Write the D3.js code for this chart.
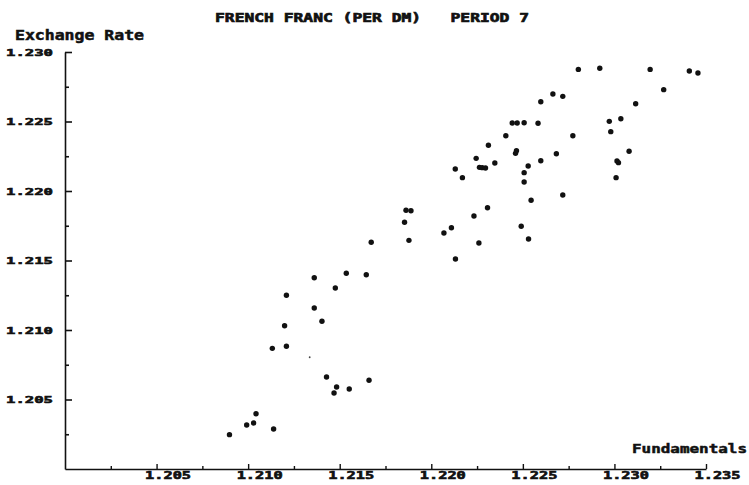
<!DOCTYPE html>
<html>
<head>
<meta charset="utf-8">
<script src="https://cdn.jsdelivr.net/npm/d3@7"></script>
<style>
  html, body { margin: 0; padding: 0; background: #fff; }
  svg { display: block; }
  text { font-family: "DejaVu Sans Mono", monospace; font-weight: bold; fill: #111; stroke: #111; stroke-width: 0.5; }
</style>
</head>
<body>
<svg id="chart" width="749" height="485"></svg>
<script>
// ---- data ----
const titleText = "FRENCH FRANC (PER DM)   PERIOD 7";
const yTitle = "Exchange Rate";
const xTitle = "Fundamentals";

const xTickValues = [1.205, 1.210, 1.215, 1.220, 1.225, 1.230, 1.235];
const xTickLabels = ["1.205", "1.210", "1.215", "1.220", "1.225", "1.230", "1.235"];
const xMinorTicks = [1.2025, 1.2075, 1.2125, 1.2175, 1.2225, 1.2275, 1.2325];
const yTickValues = [1.205, 1.210, 1.215, 1.220, 1.225, 1.230];
const yTickLabels = ["1.205", "1.210", "1.215", "1.220", "1.225", "1.230"];
const yMinorTicks = [1.2025, 1.2075, 1.2125, 1.2175, 1.2225, 1.2275];

// fundamentals (x) and exchange rate (y), one entry per observation
const fundamentals = [
  1.20898, 1.20992, 1.21030, 1.21043, 1.21139,
  1.21428, 1.21483, 1.21469, 1.21552, 1.21660,
  1.21132, 1.21209, 1.21199, 1.21403, 1.21361, 1.21209, 1.21476, 1.21361, 1.21536, 1.21645, 1.21672,
  1.22803, 1.22664, 1.22718, 1.22598, 1.22442, 1.22469, 1.22507, 1.22583, 1.22407, 1.22773,
  1.22312, 1.22245, 1.22465, 1.22460, 1.22683, 1.22263, 1.22278, 1.22296, 1.22347, 1.22598,
  1.22131, 1.22529, 1.22170, 1.22507, 1.22507, 1.22545, 1.22718, 1.21862, 1.21889, 1.21854,
  1.22307, 1.22233, 1.22110, 1.22069, 1.22491, 1.21878, 1.22260, 1.22531, 1.22132,
  1.22920, 1.23195, 1.23409, 1.23456, 1.23269, 1.23116, 1.22972, 1.23035, 1.22980,
  1.23080, 1.23014, 1.23022, 1.23009
];
const exchangeRate = [
  1.20247, 1.20317, 1.20331, 1.20398, 1.20288,
  1.20662, 1.20590, 1.20547, 1.20576, 1.20638,
  1.20868, 1.20883, 1.21031, 1.21063, 1.21158, 1.21250, 1.21302, 1.21376, 1.21408, 1.21398, 1.21631,
  1.22875, 1.22698, 1.22681, 1.22642, 1.22489, 1.22489, 1.22491, 1.22487, 1.22398, 1.22398,
  1.22329, 1.22235, 1.22290, 1.22271, 1.22268, 1.22170, 1.22168, 1.22165, 1.22201, 1.22218,
  1.22158, 1.22180, 1.22096, 1.22132, 1.22065, 1.21933, 1.21971, 1.21861, 1.21858, 1.21775,
  1.21880, 1.21820, 1.21736, 1.21698, 1.21746, 1.21645, 1.21626, 1.21655, 1.21511,
  1.22883, 1.22875, 1.22863, 1.22849, 1.22729, 1.22628, 1.22501, 1.22520, 1.22427,
  1.22286, 1.22216, 1.22204, 1.22096
];
// a faint, partly printed point
const faintX = [1.21336];
const faintY = [1.20804];

// ---- layout ----
const svg = d3.select("#chart");
const x = d3.scaleLinear().domain([1.200, 1.235]).range([65, 706]);
const y = d3.scaleLinear().domain([1.200, 1.230]).range([469, 52]);
const ink = "#111";

// title
svg.append("text")
  .attr("x", 215).attr("y", 21.5)
  .attr("font-size", 13)
  .attr("textLength", 314).attr("lengthAdjust", "spacingAndGlyphs")
  .attr("xml:space", "preserve")
  .style("white-space", "pre")
  .style("stroke-width", 0.7)
  .text(titleText);

svg.append("text")
  .attr("x", 15).attr("y", 39.5)
  .attr("font-size", 13.5)
  .attr("textLength", 129).attr("lengthAdjust", "spacingAndGlyphs")
  .text(yTitle);

svg.append("text")
  .attr("x", 632).attr("y", 452.5)
  .attr("font-size", 12.5)
  .attr("textLength", 115).attr("lengthAdjust", "spacingAndGlyphs")
  .text(xTitle);

// y axis (ticks point inward)
const yAxis = d3.axisLeft(y)
  .tickValues(yTickValues)
  .tickFormat((d, i) => yTickLabels[i])
  .tickSizeInner(-7).tickSizeOuter(0).tickPadding(12);
const gy = svg.append("g").attr("transform", "translate(65,0)").call(yAxis);
gy.select(".domain").attr("stroke", ink).attr("stroke-width", 1.6);
gy.selectAll(".tick line").attr("stroke", ink).attr("stroke-width", 1.6);
gy.selectAll(".tick text")
  .attr("font-size", 9.5).attr("fill", ink)
  .attr("textLength", 47).attr("lengthAdjust", "spacingAndGlyphs")
  .style("font-family", "'DejaVu Sans Mono', monospace").style("font-weight", "bold")
  .style("stroke", ink).style("stroke-width", 0.6);

const yMinor = d3.axisLeft(y).tickValues(yMinorTicks).tickFormat("")
  .tickSizeInner(-4).tickSizeOuter(0);
const gym = svg.append("g").attr("transform", "translate(65,0)").call(yMinor);
gym.select(".domain").remove();
gym.selectAll(".tick line").attr("stroke", ink).attr("stroke-width", 1.6);

// x axis (ticks point up)
const xAxis = d3.axisBottom(x)
  .tickValues(xTickValues)
  .tickFormat((d, i) => xTickLabels[i])
  .tickSizeInner(-5).tickSizeOuter(0).tickPadding(3);
const gx = svg.append("g").attr("transform", "translate(0,469)").call(xAxis);
gx.select(".domain").attr("stroke", ink).attr("stroke-width", 1.6);
gx.selectAll(".tick line").attr("stroke", ink).attr("stroke-width", 1.4);
gx.selectAll(".tick text")
  .attr("font-size", 10).attr("fill", ink)
  .attr("text-anchor", "start").attr("x", -12)
  .attr("textLength", 46).attr("lengthAdjust", "spacingAndGlyphs")
  .style("font-family", "'DejaVu Sans Mono', monospace").style("font-weight", "bold")
  .style("stroke", ink).style("stroke-width", 0.6);

const xMinor = d3.axisBottom(x).tickValues(xMinorTicks).tickFormat("")
  .tickSizeInner(-3).tickSizeOuter(0);
const gxm = svg.append("g").attr("transform", "translate(0,469)").call(xMinor);
gxm.select(".domain").remove();
gxm.selectAll(".tick line").attr("stroke", ink).attr("stroke-width", 1.4);

// points
const pts = fundamentals.map((f, i) => ({ f: f, e: exchangeRate[i] }));
svg.append("g").selectAll("circle")
  .data(pts).join("circle")
  .attr("cx", d => x(d.f)).attr("cy", d => y(d.e))
  .attr("r", 2.7).attr("fill", ink);

svg.append("g").selectAll("circle")
  .data(faintX.map((f, i) => ({ f: f, e: faintY[i] }))).join("circle")
  .attr("cx", d => x(d.f)).attr("cy", d => y(d.e))
  .attr("r", 0.9).attr("fill", "#444");
</script>
</body>
</html>
